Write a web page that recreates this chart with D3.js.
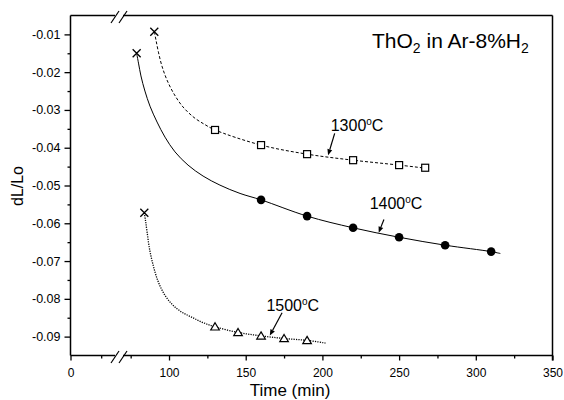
<!DOCTYPE html>
<html>
<head>
<meta charset="utf-8">
<script src="https://cdn.jsdelivr.net/npm/d3@7"></script>
<style>
  body { margin: 0; background: #fff; }
  svg { display: block; font-family: "Liberation Sans", Arial, sans-serif; }
</style>
</head>
<body>
<svg id="chart" width="564" height="400"></svg>
<script>
// measured points
const time1300 = [130, 160, 190, 220, 250, 267];
const dl1300 = [-0.0353, -0.0393, -0.0417, -0.0433, -0.0446, -0.0453];
const time1400 = [160, 190, 220, 250, 280, 310];
const dl1400 = [-0.0538, -0.0581, -0.0612, -0.0637, -0.0658, -0.0675];
const time1500 = [130, 145, 160, 175, 190];
const dl1500 = [-0.0874, -0.0889, -0.0898, -0.0905, -0.0910];

// starting points (crosses)
const startTime = [90.4, 78.9, 83.9];
const startDl = [-0.0093, -0.0150, -0.0572];

// fitted curves
const curve1300 = [[90.4, -0.0093], [91.5, -0.0115], [93.1, -0.0147], [95.4, -0.0184], [98.7, -0.0221],
    [103.3, -0.0258], [109.1, -0.0292], [116.3, -0.0320], [123.5, -0.0339], [130, -0.0353], [160, -0.0393],
    [190, -0.0417], [220, -0.0433], [250, -0.0446], [269, -0.0455]];
const curve1400 = [[78.9, -0.0150], [80.1, -0.0176], [81.7, -0.0210], [84.3, -0.0250], [87.6, -0.0290],
    [92.2, -0.0332], [97.4, -0.0372], [103.9, -0.0411], [112.4, -0.0446], [122.2, -0.0475], [133.2, -0.0499],
    [146.3, -0.0521], [160, -0.0538], [190, -0.0581], [220, -0.0612], [250, -0.0637], [280, -0.0658],
    [310, -0.0675], [316, -0.0680]];
const curve1500 = [[83.9, -0.0572], [84.7, -0.0594], [85.7, -0.0623], [87.3, -0.0668], [89.6, -0.0710],
    [92.8, -0.0753], [97.1, -0.0789], [101.9, -0.0814], [107.8, -0.0834], [115.0, -0.0849], [122.2, -0.0863],
    [130, -0.0874], [145, -0.0889], [160, -0.0898], [175, -0.0905], [190, -0.0910], [202, -0.0917]];

const xMajor = [0, 100, 150, 200, 250, 300, 350];
const xMinor = [20, 75, 125, 175, 225, 275, 325];
const yMajor = [-0.01, -0.02, -0.03, -0.04, -0.05, -0.06, -0.07, -0.08, -0.09];
const yMinor = [-0.015, -0.025, -0.035, -0.045, -0.055, -0.065, -0.075, -0.085];

// labels: text, label pos, arrow tail, arrow tip (data coords)
const labels = [
    {t: "1300", at: [205.4, -0.0355], from: [208, -0.0362], to: [203.7, -0.0420]},
    {t: "1400", at: [230.8, -0.0562], from: [240.1, -0.0590], to: [236.7, -0.0625]},
    {t: "1500", at: [163.5, -0.0833], from: [173.7, -0.0837], to: [165.7, -0.0897]}
];

const svg = d3.select("#chart");
const mLeft = 70.5, mRight = 552.5, mTop = 15.5, mBottom = 355.5;

const x = d3.scaleLinear().domain([0, 29, 70, 350]).range([mLeft, 115, 123, mRight]);
const y = d3.scaleLinear().domain([-0.095, -0.005]).range([mBottom, mTop]);

// axes ticks
svg.append("g")
    .attr("transform", `translate(0,${mBottom})`)
    .call(d3.axisBottom(x).tickValues(xMajor).tickSize(5).tickSizeOuter(0).tickPadding(8).tickFormat(d3.format("d")))
    .call(g => g.select(".domain").remove())
    .selectAll("text").style("font-size", "12px").attr("fill", "#000");

svg.append("g")
    .attr("transform", `translate(0,${mBottom})`)
    .call(d3.axisBottom(x).tickValues(xMinor).tickSize(3).tickFormat(""))
    .call(g => g.select(".domain").remove());

svg.append("g")
    .attr("transform", `translate(${mLeft},0)`)
    .call(d3.axisLeft(y).tickValues(yMajor).tickSize(6).tickPadding(4).tickFormat(d => d.toFixed(2)))
    .call(g => g.select(".domain").remove())
    .selectAll("text").style("font-size", "12.5px").attr("fill", "#000");

svg.append("g")
    .attr("transform", `translate(${mLeft},0)`)
    .call(d3.axisLeft(y).tickValues(yMinor).tickSize(3).tickFormat(""))
    .call(g => g.select(".domain").remove());

svg.selectAll(".tick line").attr("stroke", "#000").attr("stroke-width", 1.3);

// frame with the axis break
const frame = svg.append("g").attr("stroke", "#000").attr("stroke-width", 1.5).attr("fill", "none");
[mTop, mBottom].forEach(yy => {
    frame.append("line").attr("x1", mLeft).attr("x2", 115).attr("y1", yy).attr("y2", yy);
    frame.append("line").attr("x1", 123).attr("x2", mRight).attr("y1", yy).attr("y2", yy);
    [115, 123].forEach(cx => {
        frame.append("line").attr("stroke-width", 1.2)
            .attr("x1", cx - 4).attr("y1", yy + 1.5 + 6)
            .attr("x2", cx + 4).attr("y2", yy + 1.5 - 6);
    });
});
frame.append("line").attr("x1", mLeft).attr("x2", mLeft).attr("y1", mTop).attr("y2", mBottom);
frame.append("line").attr("x1", mRight).attr("x2", mRight).attr("y1", mTop).attr("y2", mBottom + 5);

// curves
const line = d3.line().x(d => x(d[0])).y(d => y(d[1])).curve(d3.curveCatmullRom.alpha(0.5));
const curves = [
    {pts: curve1300, dash: "3,2"},
    {pts: curve1400, dash: null},
    {pts: curve1500, dash: "1.2,1.2"}
];
svg.append("g").selectAll("path")
    .data(curves)
    .join("path")
    .attr("d", d => line(d.pts))
    .attr("fill", "none")
    .attr("stroke", "#000")
    .attr("stroke-width", d => d.dash === "1.2,1.2" ? 1.3 : 1)
    .attr("stroke-dasharray", d => d.dash);

// crosses
svg.append("g").selectAll("path")
    .data(startTime.map((t, i) => [t, startDl[i]]))
    .join("path")
    .attr("transform", d => `translate(${x(d[0])},${y(d[1])})`)
    .attr("d", "M-4,-4L4,4M-4,4L4,-4")
    .attr("stroke", "#000")
    .attr("stroke-width", 1.3);

// squares
svg.append("g").selectAll("rect")
    .data(time1300.map((t, i) => [t, dl1300[i]]))
    .join("rect")
    .attr("x", d => x(d[0]) - 3.5)
    .attr("y", d => y(d[1]) - 3.5)
    .attr("width", 7)
    .attr("height", 7)
    .attr("fill", "#fff")
    .attr("stroke", "#000")
    .attr("stroke-width", 1.2);

// filled circles
svg.append("g").selectAll("circle")
    .data(time1400.map((t, i) => [t, dl1400[i]]))
    .join("circle")
    .attr("cx", d => x(d[0]))
    .attr("cy", d => y(d[1]))
    .attr("r", 4.3)
    .attr("fill", "#000");

// triangles
svg.append("g").selectAll("path")
    .data(time1500.map((t, i) => [t, dl1500[i]]))
    .join("path")
    .attr("transform", d => `translate(${x(d[0])},${y(d[1])})`)
    .attr("d", "M0,-4L4.3,3.2L-4.3,3.2Z")
    .attr("fill", "#fff")
    .attr("stroke", "#000")
    .attr("stroke-width", 1.2);

// temperature labels with arrows
const ann = svg.append("g");
labels.forEach(l => {
    const t = ann.append("text")
        .attr("x", x(l.at[0]))
        .attr("y", y(l.at[1]))
        .style("font-size", "16px");
    t.append("tspan").text(l.t);
    t.append("tspan").attr("dy", -6).style("font-size", "10px").text("o");
    t.append("tspan").attr("dy", 6).text("C");

    const x1 = x(l.from[0]), y1 = y(l.from[1]), x2 = x(l.to[0]), y2 = y(l.to[1]);
    const ang = Math.atan2(y2 - y1, x2 - x1);
    const hl = 6, hw = 2.5;
    const bx = x2 - hl * Math.cos(ang), by = y2 - hl * Math.sin(ang);
    ann.append("line")
        .attr("x1", x1).attr("y1", y1).attr("x2", bx).attr("y2", by)
        .attr("stroke", "#000").attr("stroke-width", 1.2);
    ann.append("path")
        .attr("d", `M${x2},${y2}L${bx + hw * Math.sin(ang)},${by - hw * Math.cos(ang)}L${bx - hw * Math.sin(ang)},${by + hw * Math.cos(ang)}Z`)
        .attr("fill", "#000");
});

// title
const title = svg.append("text")
    .attr("x", 372)
    .attr("y", 48)
    .style("font-size", "21px");
title.append("tspan").text("ThO");
title.append("tspan").attr("dy", 5).style("font-size", "14px").text("2");
title.append("tspan").attr("dy", -5).text(" in Ar-8%H");
title.append("tspan").attr("dy", 5).style("font-size", "14px").text("2");

// axis titles
svg.append("text")
    .attr("x", 290)
    .attr("y", 396)
    .attr("text-anchor", "middle")
    .style("font-size", "17px")
    .text("Time (min)");

svg.append("text")
    .attr("transform", "translate(23,186) rotate(-90)")
    .attr("text-anchor", "middle")
    .style("font-size", "16px")
    .text("dL/Lo");
</script>
</body>
</html>
